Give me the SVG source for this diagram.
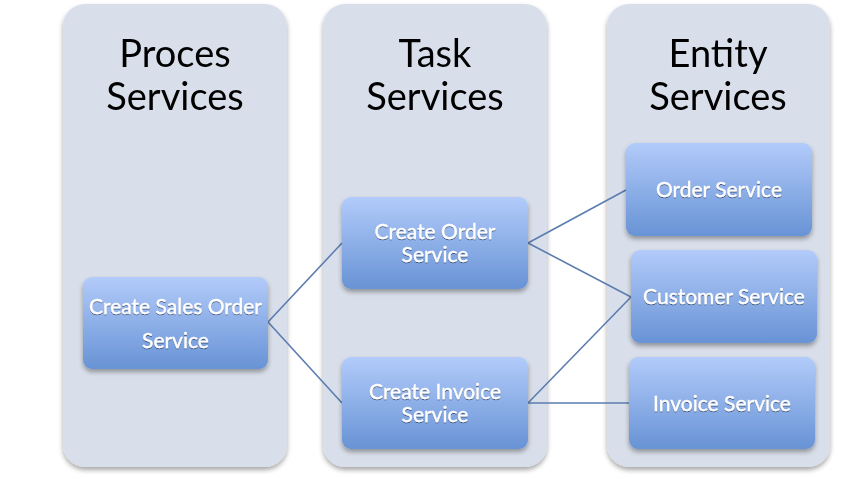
<svg xmlns="http://www.w3.org/2000/svg" width="868" height="479" viewBox="0 0 868 479">
<defs>
<linearGradient id="ng" x1="0" y1="0" x2="0" y2="1">
<stop offset="0" stop-color="#b2cbfa"/>
<stop offset="1" stop-color="#6893d5"/>
</linearGradient>
<filter id="sh" x="-10%" y="-10%" width="120%" height="130%">
<feGaussianBlur in="SourceAlpha" stdDeviation="2.5"/>
<feOffset dx="0" dy="3" result="b"/>
<feComponentTransfer><feFuncA type="linear" slope="0.35"/></feComponentTransfer>
<feMerge><feMergeNode/><feMergeNode in="SourceGraphic"/></feMerge>
</filter>
<filter id="ts" x="-5%" y="-20%" width="110%" height="140%">
<feGaussianBlur in="SourceAlpha" stdDeviation="0.7"/>
<feOffset dx="0" dy="1"/>
<feComponentTransfer><feFuncA type="linear" slope="0.5"/></feComponentTransfer>
<feMerge><feMergeNode/><feMergeNode in="SourceGraphic"/></feMerge>
</filter>
</defs>
<style>
.col{fill:#d9dfea;}
.head{font-family:Lato,"Liberation Sans",sans-serif;font-size:38px;fill:#000;text-anchor:middle;}
.node{fill:url(#ng);}
.lbl{font-family:Lato,"Liberation Sans",sans-serif;font-size:21px;fill:#fff;text-anchor:middle;stroke:#fff;stroke-width:0.35;}
.con{stroke:#5b7db0;stroke-width:1.6;fill:none;}
</style>
<rect width="868" height="479" fill="#fff"/>
<g id="col-process" filter="url(#sh)">
<rect class="col" x="63" y="4" width="224" height="463" rx="22"/>
<text class="head" x="175" y="67">Proces</text>
<text class="head" x="175" y="110">Services</text>
</g>
<g id="col-task" filter="url(#sh)">
<rect class="col" x="323" y="4" width="224" height="463" rx="22"/>
<text class="head" x="435" y="67">Task</text>
<text class="head" x="435" y="110">Services</text>
</g>
<g id="col-entity" filter="url(#sh)">
<rect class="col" x="607" y="4" width="223" height="463" rx="22"/>
<text class="head" x="718" y="67">Entity</text>
<text class="head" x="718" y="110">Services</text>
</g>
<g id="connectors">
<line class="con" x1="268" y1="322" x2="342" y2="243"/>
<line class="con" x1="268" y1="322" x2="342" y2="403"/>
<line class="con" x1="528" y1="243" x2="626" y2="190"/>
<line class="con" x1="528" y1="243" x2="631" y2="297"/>
<line class="con" x1="528" y1="403" x2="631" y2="297"/>
<line class="con" x1="528" y1="403" x2="629" y2="403"/>
</g>
<g id="create-sales-order">
<rect class="node" x="83" y="277" width="185" height="92" rx="9" filter="url(#sh)"/>
<text class="lbl" x="175.5" y="314" filter="url(#ts)">Create Sales Order</text>
<text class="lbl" x="175.5" y="348" filter="url(#ts)">Service</text>
</g>
<g id="create-order">
<rect class="node" x="342" y="197" width="186" height="92" rx="9" filter="url(#sh)"/>
<text class="lbl" x="435" y="239" filter="url(#ts)">Create Order</text>
<text class="lbl" x="435" y="262" filter="url(#ts)">Service</text>
</g>
<g id="create-invoice">
<rect class="node" x="342" y="357" width="186" height="92" rx="9" filter="url(#sh)"/>
<text class="lbl" x="435" y="399" filter="url(#ts)">Create Invoice</text>
<text class="lbl" x="435" y="422" filter="url(#ts)">Service</text>
</g>
<g id="order-service">
<rect class="node" x="626" y="143" width="186" height="93" rx="9" filter="url(#sh)"/>
<text class="lbl" x="719" y="197" filter="url(#ts)">Order Service</text>
</g>
<g id="customer-service">
<rect class="node" x="631" y="250" width="186" height="93" rx="9" filter="url(#sh)"/>
<text class="lbl" x="724" y="304" filter="url(#ts)">Customer Service</text>
</g>
<g id="invoice-service">
<rect class="node" x="629" y="357" width="186" height="92" rx="9" filter="url(#sh)"/>
<text class="lbl" x="722" y="411" filter="url(#ts)">Invoice Service</text>
</g>
</svg>
